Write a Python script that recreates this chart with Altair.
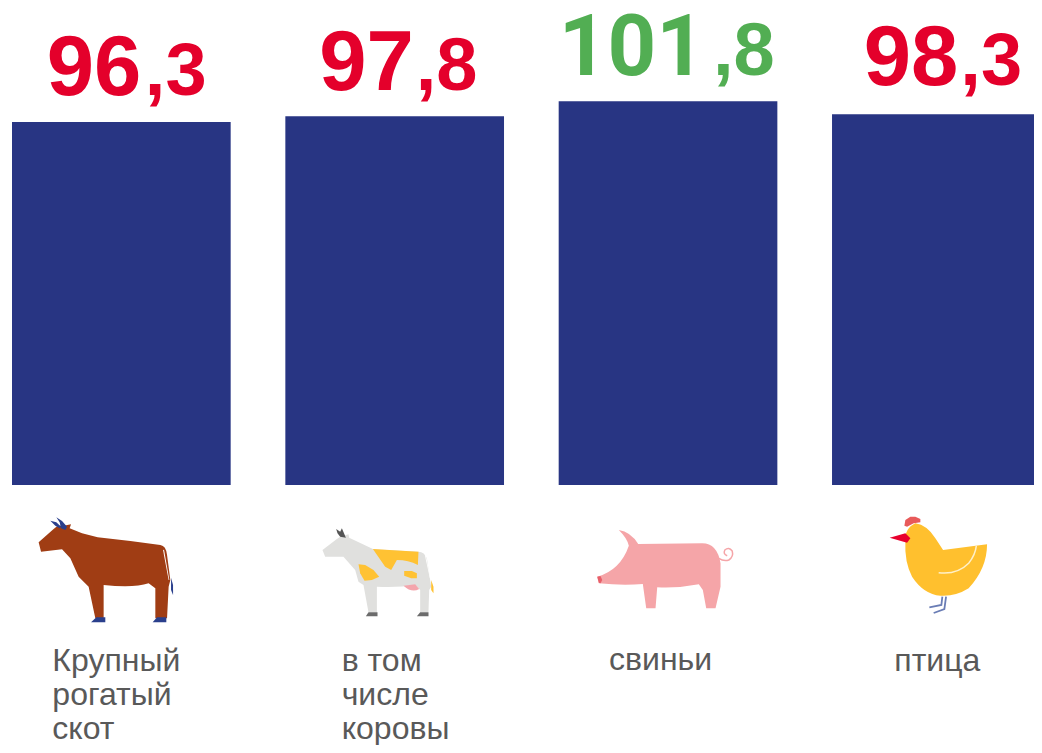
import altair as alt
import pandas as pd

categories = ["Крупный рогатый скот", "в том числе коровы", "свиньи", "птица"]
values = [96.3, 97.8, 101.8, 98.3]
whole_parts = ["96", "97", "101", "98"]
decimal_parts = [",3", ",8", ",8", ",3"]
value_colors = ["#E4002B", "#E4002B", "#52AE53", "#E4002B"]
label_lines = [["Крупный", "рогатый", "скот"], ["в том", "числе", "коровы"], ["свиньи"], ["птица"]]

BAR = "#283583"
TEXT = "#595959"
FONT = "Liberation Sans"
# Liberation's "1" has a foot that the reference's does not
whole_fonts = [FONT, FONT, "Roboto", FONT]

# offsets of each value label relative to its bar (whole dx, decimal dx, dy)
value_offsets = [(20, 23.5, -27), (19, 21, -26), (37, 45, -26), (17, 19, -29)]
# category label: left offset from bar centre, first baseline in chart pixels
label_offsets = [(-69, 663), (-53, 663), (-59, 662), (-47, 663)]
LINE_HEIGHT = 34


def path(points, ox, oy, closed=True):
    out = []
    for i, p in enumerate(points):
        if len(p) == 2:
            x, y = p[0] / 3 + ox, p[1] / 3 + oy
            out.append(f"{'M' if i == 0 else 'L'}{x:.1f} {y:.1f}")
        else:
            out.append(
                f"Q{p[0] / 3 + ox:.1f} {p[1] / 3 + oy:.1f} {p[2] / 3 + ox:.1f} {p[3] / 3 + oy:.1f}"
            )
    return "".join(out) + ("Z" if closed else "")


# icon outlines
C1 = (-101, -60)
C2 = (-89.5, -50)
C3 = (-82.5, -50)
C4 = (-61, -60)

fill_pieces = [
    # brown bull
    (0, "#A03D14", [(55, 112), (100, 72), (112, 62), (130, 62), (152, 58), (148, 70), (185, 85), (232, 97), (330, 108), (420, 120), (437, 122, 440, 150), (450, 225), (445, 245), (440, 340), (405, 340), (405, 250), (385, 235), (340, 250, 250, 240), (250, 340), (225, 340), (205, 245), (175, 215), (150, 160), (125, 133), (62, 140)], C1),
    (0, "#2A3F8C", [(90, 47), (108, 52), (122, 65), (118, 70), (105, 62)], C1),
    (0, "#2A3F8C", [(108, 37), (125, 48), (140, 65), (135, 75), (122, 70), (118, 52)], C1),
    (0, "#2A3F8C", [(212, 352), (228, 337), (255, 337), (255, 352)], C1),
    (0, "#2A3F8C", [(397, 352), (410, 337), (438, 337), (438, 352)], C1),
    (0, "#2A3F8C", [(452, 218), (458, 240), (458, 270), (452, 255)], C1),
    (0, "#FFFFFF", [(428, 135), (431, 134), (447, 225), (445, 225)], C1),
    # spotted cow
    (1, "#E0E0DE", [(52, 105), (95, 72), (105, 65), (130, 58), (132, 68), (205, 103), (340, 110), (358, 110, 365, 130), (378, 215), (372, 225), (370, 292), (345, 292), (345, 225), (330, 210), (280, 218, 215, 215), (215, 292), (190, 292), (175, 210), (160, 200), (150, 165), (115, 125), (60, 125)], C2),
    (1, "#FFC233", [(203, 102), (340, 110), (338, 150), (310, 135, 275, 135), (258, 165), (240, 155)], C2),
    (1, "#FFC233", [(160, 148), (180, 150), (205, 165), (222, 185), (200, 195), (178, 197), (165, 175)], C2),
    (1, "#FFC233", [(297, 168), (320, 168), (335, 175), (335, 190), (318, 190), (297, 182)], C2),
    (1, "#F4A5AC", [(295, 212), (330, 208), (342, 222), (320, 235, 295, 212)], C2),
    (1, "#FFC233", [(378, 195), (385, 215), (385, 235), (378, 225)], C2),
    (1, "#6B6B6B", [(182, 304), (190, 292), (217, 292), (217, 304)], C2),
    (1, "#6B6B6B", [(335, 304), (345, 292), (370, 292), (370, 304)], C2),
    (1, "#555555", [(93, 42), (105, 50), (110, 40), (122, 68), (105, 65), (97, 55)], C2),
    (1, "#FFFFFF", [(358, 115), (361, 115), (376, 190), (374, 190)], C2),
    # pig
    (2, "#F5A5A8", [(35, 185), (105, 165, 130, 92), (125, 70, 100, 45), (135, 50, 158, 87), (350, 85), (395, 85, 405, 145), (405, 215), (390, 280), (362, 280), (352, 225), (340, 208), (280, 220, 215, 217), (210, 280), (182, 280), (172, 207), (110, 212, 40, 205)], C3),
    (2, "#E8606A", [(35, 185), (45, 183), (50, 195), (45, 205), (40, 203)], C3),
    # hen
    (3, "#FFC02E", [(75, 110), (72, 70, 105, 55), (140, 60, 165, 100), (188, 135), (320, 118), (320, 190, 265, 250), (225, 275, 180, 272), (130, 268, 95, 215), (72, 170, 75, 110)], C4),
    (3, "#E85A5A", [(72, 62), (75, 45), (90, 35), (105, 35), (120, 42), (120, 52), (100, 55), (80, 65)], C4),
    (3, "#E8002D", [(28, 98), (75, 85), (90, 100), (80, 113)], C4),
]

stroke_pieces = [
    (2, "#F5A5A8", 1.5, [(400, 130), (415, 140, 430, 135), (445, 125, 440, 108), (430, 95, 418, 105), (412, 118, 425, 122)], C3),
    (3, "#FFF0C8", 1.5, [(175, 203), (230, 210, 265, 175), (285, 150, 288, 122)], C4),
    (3, "#6A7DB5", 1.8, [(186, 275), (183, 300), (147, 307)], C4),
    (3, "#6A7DB5", 1.8, [(197, 275), (192, 312), (160, 324)], C4),
]

fills = pd.DataFrame(
    [{"category": categories[i], "color": c, "path": path(pts, *o), "order": n}
     for n, (i, c, pts, o) in enumerate(fill_pieces)]
)
strokes = pd.DataFrame(
    [{"category": categories[i], "color": c, "sw": w, "path": path(pts, *o, closed=False)}
     for i, c, w, pts, o in stroke_pieces]
)
bars = pd.DataFrame({"category": categories, "value": values})

x_scale = alt.Scale(domain=categories, range=[4, 1042.7], paddingInner=0.2, paddingOuter=0)
y_scale = alt.Scale(domain=[0, 126.5], range=[477, 0], nice=False)
X = alt.X("category:N", scale=x_scale, axis=None, sort=categories)
Y = alt.Y("value:Q", scale=y_scale, axis=None)

layers = [
    alt.Chart(bars).mark_bar(color=BAR, clip=True).encode(x=X, y=Y),
]

for i, cat in enumerate(categories):
    row = pd.DataFrame({"category": [cat], "value": [values[i]],
                        "whole": [whole_parts[i]], "decimal": [decimal_parts[i]]})
    dw, dd, dy = value_offsets[i]
    layers.append(
        alt.Chart(row).mark_text(font=whole_fonts[i], fontWeight="bold", fontSize=85, align="right",
                                 baseline="alphabetic", dx=dw, dy=dy, color=value_colors[i])
        .encode(x=X, y=Y, text="whole:N")
    )
    layers.append(
        alt.Chart(row).mark_text(font=FONT, fontWeight="bold", fontSize=74, align="left",
                                 baseline="alphabetic", dx=dd, dy=dy, color=value_colors[i])
        .encode(x=X, y=Y, text="decimal:N")
    )
    lx, ly = label_offsets[i]
    label_row = pd.DataFrame({"category": [cat], "label": ["\n".join(label_lines[i])]})
    layers.append(
        alt.Chart(label_row).mark_text(font=FONT, fontSize=32, align="left", baseline="alphabetic",
                                       dx=lx, lineBreak="\n", lineHeight=LINE_HEIGHT, color=TEXT)
        .encode(x=X, y=alt.value(ly), text="label:N")
    )

layers.append(
    alt.Chart(fills).mark_point(filled=True, size=4, opacity=1, strokeWidth=0).encode(
        x=X, y=alt.value(557),
        shape=alt.Shape("path:N", scale=None),
        color=alt.Color("color:N", scale=None),
        order=alt.Order("order:Q"),
    )
)
layers.append(
    alt.Chart(strokes).mark_point(filled=False, size=4, opacity=1).encode(
        x=X, y=alt.value(557),
        shape=alt.Shape("path:N", scale=None),
        color=alt.Color("color:N", scale=None),
        strokeWidth=alt.StrokeWidth("sw:Q", scale=None),
    )
)

chart = (
    alt.layer(*layers)
    .properties(width=1026, height=737, padding=0, autosize=alt.AutoSizeParams(type="none"),
                background="white")
    .configure_view(stroke=None)
)

chart.save("out.html", embed_options={"renderer": "svg", "actions": False})
